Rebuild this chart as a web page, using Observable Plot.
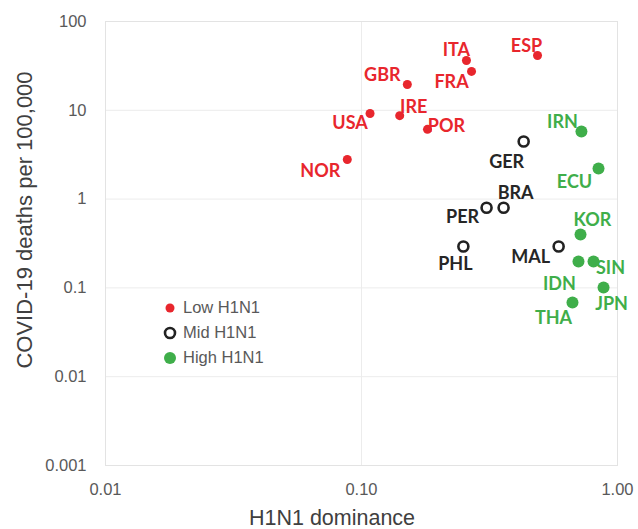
<!DOCTYPE html>
<html>
<head>
<meta charset="utf-8">
<script src="https://cdn.jsdelivr.net/npm/d3@7"></script>
<script src="https://cdn.jsdelivr.net/npm/@observablehq/plot@0.6"></script>
<style>
  html, body { margin: 0; padding: 0; background: #fff; }
  #wrap { position: relative; width: 638px; height: 529px; overflow: hidden; }
  #legend { position: absolute; left: 161px; top: 295px; font-family: "Liberation Sans", Arial, sans-serif; font-size: 16.5px; color: #595959; }
  #legend .row { display: flex; align-items: center; height: 25px; }
  #legend svg { width: 18px; height: 18px; margin-right: 4px; }
  .title { position: absolute; font-family: "Liberation Sans", Arial, sans-serif; color: #404040; white-space: nowrap; line-height: 1; }
  #xtitle { left: 332px; top: 519px; font-size: 21.5px; transform: translate(-50%, -50%); }
  #ytitle { left: 25px; top: 220px; font-size: 22px; transform: translate(-50%, -50%) rotate(-90deg); }
</style>
</head>
<body>
<div id="wrap"></div>
<script>
// Data
const countries = ["ITA","ESP","FRA","GBR","USA","IRE","POR","NOR","GER","BRA","PER","PHL","MAL","IRN","ECU","KOR","IDN","SIN","JPN","THA"];
const dominance = [0.257,0.487,0.269,0.151,0.108,0.141,0.181,0.088,0.430,0.359,0.308,0.250,0.589,0.723,0.843,0.717,0.704,0.806,0.882,0.667];
const deaths    = [36.4,41.4,27.4,19.5,9.2,8.7,6.1,2.79,4.45,0.80,0.80,0.292,0.292,5.77,2.21,0.40,0.198,0.198,0.101,0.0686];
const groups    = ["Low","Low","Low","Low","Low","Low","Low","Low","Mid","Mid","Mid","Mid","Mid","High","High","High","High","High","High","High"];
// label offsets (px) from each dot
const labelDx   = [-10,-11,-20,-25,-20,14,19,-27,-17,12,-24,-8,-28,-19,-24,12,-19,17,8,-19];
const labelDy   = [-10,-9,11,-9,10,-8,-3,12,21,-14,10,18,11,-9,14,-14,23,7,17,16];

const xTicks = [0.01, 0.1, 1];
const xTickLabels = ["0.01","0.10","1.00"];
const yTicks = [0.001, 0.01, 0.1, 1, 10, 100];
const yTickLabels = ["0.001","0.01","0.1","1","10","100"];
const groupNames = ["Low","Mid","High"];
const legendLabels = ["Low H1N1","Mid H1N1","High H1N1"];
const xTitle = "H1N1 dominance";
const yTitle = "COVID-19 deaths per 100,000";

const xLabelMap = new Map(xTicks.map((t, i) => [t, xTickLabels[i]]));
const yLabelMap = new Map(yTicks.map((t, i) => [t, yTickLabels[i]]));

const fill = {Low: "#e8262d", Mid: "none", High: "#3fae4a"};
const textColor = {Low: "#e8262d", Mid: "#262626", High: "#3fae4a"};
const radius = {Low: 4.5, Mid: 5, High: 6};

const data = countries.map((c, i) => ({
  c, x: dominance[i], y: deaths[i], g: groups[i], dx: labelDx[i], dy: labelDy[i]
}));

const labelMarks = data.map(d => Plot.text([d], {
  x: "x", y: "y", text: "c", dx: d.dx, dy: d.dy,
  fill: textColor[d.g], fontWeight: "bold", fontSize: 18,
  fontFamily: "Lato, 'Open Sans', sans-serif", textAnchor: "middle", lineAnchor: "middle"
}));

const chart = Plot.plot({
  width: 638,
  height: 529,
  marginLeft: 105,
  marginRight: 21,
  marginTop: 21,
  marginBottom: 64,
  style: { fontFamily: "'Liberation Sans', Arial, sans-serif", background: "#fff" },
  x: { type: "log", domain: [0.01, 1] },
  y: { type: "log", domain: [0.001, 100] },
  marks: [
    Plot.gridX(xTicks, { stroke: "#ececec", strokeOpacity: 1 }),
    Plot.gridY(yTicks, { stroke: "#ececec", strokeOpacity: 1 }),
    Plot.frame({ stroke: "#e3e3e3" }),
    Plot.axisX(xTicks, { tickSize: 0, tickPadding: 18, fontSize: 16.5, fill: "#595959",
      tickFormat: d => xLabelMap.get(d), label: null }),
    Plot.axisY(yTicks, { tickSize: 0, tickPadding: 19, fontSize: 16.5, fill: "#595959",
      tickFormat: d => yLabelMap.get(d), label: null }),
    ...groupNames.map(g => Plot.dot(data.filter(d => d.g === g), {
      x: "x", y: "y", r: radius[g],
      fill: fill[g],
      stroke: g === "Mid" ? "#222" : "none",
      strokeWidth: g === "Mid" ? 2.6 : 0
    })),
    ...labelMarks
  ]
});

const wrap = document.getElementById("wrap");
wrap.appendChild(chart);

// Axis titles
const xt = document.createElement("div");
xt.className = "title"; xt.id = "xtitle"; xt.textContent = xTitle;
wrap.appendChild(xt);
const yt = document.createElement("div");
yt.className = "title"; yt.id = "ytitle"; yt.textContent = yTitle;
wrap.appendChild(yt);

// Legend
const legend = document.createElement("div");
legend.id = "legend";
groupNames.forEach((g, i) => {
  const row = document.createElement("div");
  row.className = "row";
  const r = radius[g];
  const circ = g === "Mid"
    ? `<circle cx="9" cy="9" r="${r}" fill="none" stroke="#222" stroke-width="2.6"/>`
    : `<circle cx="9" cy="9" r="${r}" fill="${fill[g]}"/>`;
  row.innerHTML = `<svg viewBox="0 0 18 18">${circ}</svg><span>${legendLabels[i]}</span>`;
  legend.appendChild(row);
});
wrap.appendChild(legend);
</script>
</body>
</html>
